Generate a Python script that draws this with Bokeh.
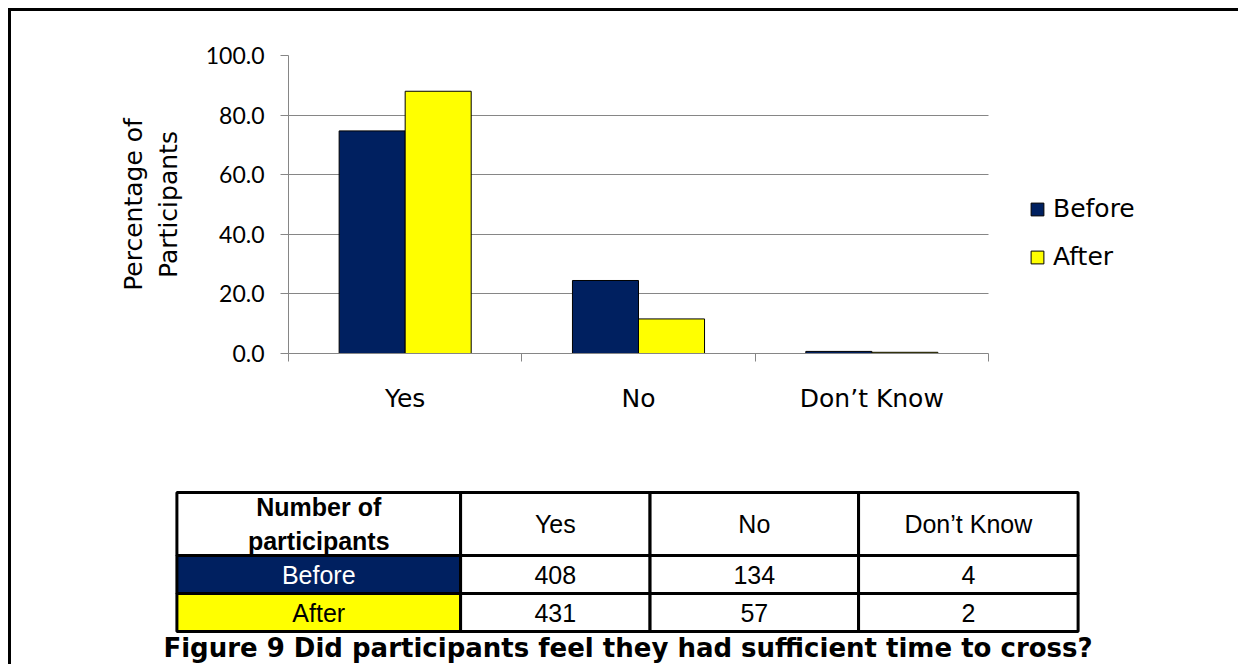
import numpy as np
from bokeh.plotting import figure
from bokeh.models import (ColumnDataSource, Range1d, FixedTicker, PrintfTickFormatter,
                          Legend, LegendItem)
from bokeh.transform import dodge
from bokeh.embed import file_html
from bokeh.resources import INLINE
from bokeh.core.properties import value

# ---------------- data ----------------
categories = ["Yes", "No", "Don\u2019t Know"]
series = ["Before", "After"]
before_pct = [74.7, 24.5, 0.7]
after_pct = [88.0, 11.6, 0.4]
before_counts = [408, 134, 4]
after_counts = [431, 57, 2]
y_ticks = [0, 20, 40, 60, 80, 100]
table_header = "Number of\nparticipants"
caption = "Figure 9 Did participants feel they had sufficient time to cross?"

NAVY = "#002060"
YELLOW = "#FFFF00"
GRAY = "#868686"

# ---------------- chart ----------------
n = len(categories)
centers = [float(c) for c in np.arange(n) + 0.5]
src = ColumnDataSource(dict(x=centers, before=before_pct, after=after_pct))

# frame spans from the y axis to the right edge (legend lives inside it);
# the category axis itself covers 700 px of the 953 px frame
x_end = n * (1241 - 288) / (988 - 288)

p1 = figure(width=1230, height=467, x_range=Range1d(0, x_end), y_range=Range1d(0, 100),
            output_backend="svg", toolbar_location=None,
            min_border_left=277, min_border_right=0, min_border_top=44, min_border_bottom=125)
p1.outline_line_color = None
p1.styles = {"margin-left": "8px", "margin-top": "8px",
             "border-top": "3px solid black", "border-left": "3px solid black"}

bw = 0.283
r1 = p1.vbar(x=dodge("x", -bw / 2), top="before", width=bw, source=src,
             fill_color=NAVY, line_color="black", line_width=1)
r2 = p1.vbar(x=dodge("x", bw / 2), top="after", width=bw, source=src,
             fill_color=YELLOW, line_color="black", line_width=1)

p1.xgrid.visible = False
p1.ygrid.ticker = FixedTicker(ticks=y_ticks)
p1.ygrid.grid_line_color = GRAY
p1.ygrid.grid_line_width = 1
p1.ygrid.cross_bounds = (0, n)

ya = p1.yaxis[0]
ya.ticker = FixedTicker(ticks=y_ticks, minor_ticks=[])
ya.formatter = PrintfTickFormatter(format="%.1f")
ya.major_label_text_font = "Lato"
ya.major_label_text_font_size = "23px"
ya.major_label_text_color = "black"
ya.major_label_standoff = 16
ya.major_tick_out = 8
ya.major_tick_in = 0
ya.minor_tick_out = 0
ya.minor_tick_in = 0
ya.axis_line_color = GRAY
ya.major_tick_line_color = GRAY
ya.axis_label = "Percentage of\nParticipants"
ya.axis_label_text_font = "DejaVu Sans"
ya.axis_label_text_font_size = "25px"
ya.axis_label_text_font_style = "normal"
ya.axis_label_text_color = "black"
ya.axis_label_standoff = 20

xa = p1.xaxis[0]
xa.bounds = (0, n)
xa.ticker = FixedTicker(ticks=centers, minor_ticks=list(range(n + 1)))
xa.major_label_overrides = {c: lab for c, lab in zip(centers, categories)}
xa.major_label_text_font = "DejaVu Sans"
xa.major_label_text_font_size = "25px"
xa.major_label_text_color = "black"
xa.major_label_standoff = 22
xa.major_tick_out = 0
xa.major_tick_in = 0
xa.minor_tick_out = 8
xa.minor_tick_in = 0
xa.axis_line_color = GRAY
xa.minor_tick_line_color = GRAY

legend = Legend(items=[LegendItem(label=series[0], renderers=[r1]),
                       LegendItem(label=series[1], renderers=[r2])],
                location=(741, 82), orientation="vertical",
                glyph_width=16, glyph_height=16, label_standoff=8, spacing=19,
                padding=0, margin=0, border_line_color=None, background_fill_alpha=0,
                label_text_font="DejaVu Sans", label_text_font_size="25px",
                label_text_color="black", label_height=28)
p1.add_layout(legend, "center")

# ---------------- table + caption ----------------
# canvas of this figure spans page x 11..1238 and page y 475..664
p2 = figure(width=1230, height=189, x_range=Range1d(11, 1238), y_range=Range1d(664, 475),
            output_backend="svg", toolbar_location=None, min_border=0,
            x_axis_type=None, y_axis_type=None)
p2.grid.visible = False
p2.outline_line_color = None
p2.styles = {"margin-left": "8px", "border-left": "3px solid black"}

col_edges = [176, 459, 648, 856, 1075]
row_edges = [492, 555, 593, 631]

rows = [
    [table_header] + categories,
    [series[0]] + [str(v) for v in before_counts],
    [series[1]] + [str(v) for v in after_counts],
]
first_col_fill = ["white", NAVY, YELLOW]
first_col_text = ["black", "white", "black"]

L, R, T, B, F = [], [], [], [], []
tx, ty, tt, tc, tw = [], [], [], [], []
for i in range(3):
    for j in range(4):
        L.append(col_edges[j]); R.append(col_edges[j + 1])
        T.append(row_edges[i]); B.append(row_edges[i + 1])
        F.append(first_col_fill[i] if j == 0 else "white")
        tx.append((col_edges[j] + col_edges[j + 1]) / 2)
        ty.append((row_edges[i] + row_edges[i + 1]) / 2)
        tt.append(rows[i][j])
        tc.append(first_col_text[i] if j == 0 else "black")
        tw.append("bold" if (i == 0 and j == 0) else "normal")

p2.quad(left=L, right=R, top=T, bottom=B, fill_color=F, line_color="black", line_width=3)
tsrc = ColumnDataSource(dict(x=tx, y=ty, t=tt, c=tc, w=tw))
p2.text(x="x", y="y", text="t", source=tsrc, text_color="c", text_font_style="w",
        text_font=value("Liberation Sans"), text_font_size="25px",
        text_align="center", text_baseline="middle", text_line_height=1.2)

p2.text(x=[626], y=[647], text=[caption], text_font=value("DejaVu Sans"),
        text_font_style="bold", text_font_size="26px", text_color="black",
        text_align="center", text_baseline="middle")

open("out.html", "w").write(file_html([p1, p2], INLINE))
